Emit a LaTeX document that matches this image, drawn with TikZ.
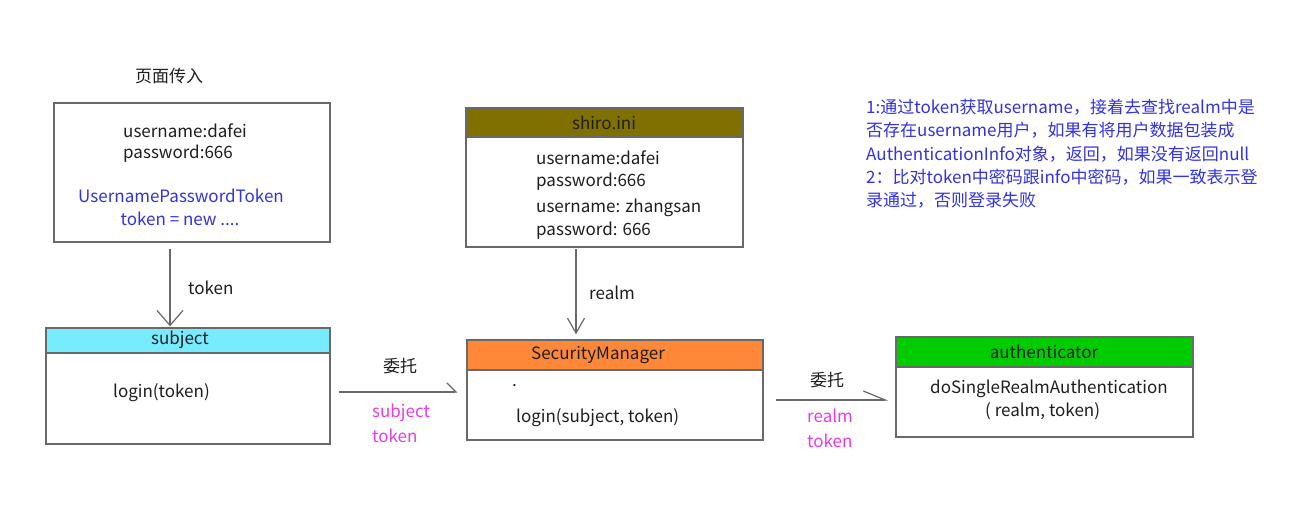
\documentclass[tikz,border=0pt]{standalone}
\usepackage{fontspec}
\setmainfont{Noto Sans CJK SC}
\usetikzlibrary{arrows.meta}
\definecolor{linec}{RGB}{105,105,105}
\definecolor{textc}{RGB}{30,30,30}
\definecolor{olive}{RGB}{128,112,0}
\definecolor{cyanh}{RGB}{120,236,255}
\definecolor{orangeh}{RGB}{255,136,56}
\definecolor{greenh}{RGB}{0,204,0}
\definecolor{bluet}{RGB}{50,50,225}
\definecolor{magt}{RGB}{230,60,230}
\tikzset{
  box/.style={draw=linec, line width=1.3pt, fill=white, inner sep=0pt},
  hdr/.style={draw=linec, line width=1.3pt, inner sep=0pt},
  txt/.style={inner sep=0pt, anchor=west, font=\fontsize{17}{20}\selectfont, text=textc},
  ctxt/.style={inner sep=0pt, anchor=center, font=\fontsize{17}{20}\selectfont, text=textc},
  btxt/.style={txt, text=bluet},
  mtxt/.style={txt, text=magt},
  varrow/.style={draw=linec, line width=1.2pt, -{Straight Barb[length=15pt,width=26pt,line width=1.2pt]}},
  varrowb/.style={draw=linec, line width=1.2pt, -{Straight Barb[length=15pt,width=17pt,line width=1.2pt]}},
  harpa/.style={draw=linec, line width=1.2pt, -{Straight Barb[left,length=9pt,width=18pt,line width=1.2pt]}},
  harpb/.style={draw=linec, line width=1.2pt, -{Straight Barb[left,length=22pt,width=18pt,line width=1.2pt]}},
}
\begin{document}
\begin{tikzpicture}[x=1pt,y=-1pt]
\useasboundingbox[fill=white] (0,0) rectangle (1289,519);

% top-left input box
\node[ctxt] (pagein) at (169,76) {页面传入};
\node[box, minimum width=276pt, minimum height=139pt] (input) at (192,172.5) {};
\node[txt] (u1) at (123,131) {username:dafei};
\node[txt] (p1) at (123,154) {password:666};
\node[ctxt, text=bluet] (upt) at (181,196) {UsernamePasswordToken};
\node[ctxt, text=bluet] (tnew) at (180,219) {token = new ....};

% shiro.ini
\node[box, minimum width=277pt, minimum height=139pt] (shiro) at (604.5,177.5) {};
\node[hdr, fill=olive, minimum width=277pt, minimum height=29pt] (shirohead) at (604.5,122.5) {};
\node[ctxt] (shirot) at (604,123) {shiro.ini};
\node[txt] (s1) at (536,158) {username:dafei};
\node[txt] (s2) at (536,182) {password:666};
\node[txt] (s3) at (536,208) {username: zhangsan};
\node[txt] (s4) at (536,231) {password: 666};

% subject
\node[box, minimum width=284pt, minimum height=116pt] (subj) at (188,386) {};
\node[hdr, fill=cyanh, minimum width=284pt, minimum height=25pt] (subjhead) at (188,340.5) {};
\node[ctxt] (subjt) at (180,340) {subject};
\node[txt] (lt) at (113,393) {login(token)};

% SecurityManager
\node[box, minimum width=296pt, minimum height=100pt] (sm) at (615,390) {};
\node[hdr, fill=orangeh, minimum width=296pt, minimum height=30pt] (smhead) at (615,355) {};
\node[ctxt] (smt) at (598,355) {SecurityManager};
\node[txt] (dot) at (512,386) {.};
\node[txt] (lst) at (516,418) {login(subject, token)};

% authenticator
\node[box, minimum width=297pt, minimum height=100pt] (auth) at (1044.5,387) {};
\node[hdr, fill=greenh, minimum width=297pt, minimum height=30pt] (authhead) at (1044.5,352) {};
\node[ctxt] (autht) at (1044,352) {authenticator};
\node[txt] (dsra) at (930,389) {doSingleRealmAuthentication};
\node[txt] (rt) at (985,411) {( realm, token)};

% connectors
\coordinate (tx) at (170,0);
\coordinate (rx) at (576,0);
\coordinate (d1) at (0,392);
\coordinate (d2) at (0,400);
\draw[varrow, shorten <=6pt, shorten >=1pt] (input.south -| tx) -- (subjhead.north -| tx);
\draw[varrowb, shorten <=1pt, shorten >=5pt] (shiro.south -| rx) -- (smhead.north -| rx);
\draw[harpa, shorten <=8pt, shorten >=9pt] (subj.east |- d1) -- (sm.west |- d1);
\draw[harpb, shorten <=12pt, shorten >=7pt] (sm.east |- d2) -- (auth.west |- d2);

% labels
\node[txt] (ltoken) at (188,288) {token};
\node[txt] (lrealm) at (589,293) {realm};
\node[ctxt] (wt1) at (400,366) {委托};
\node[mtxt] (ms1) at (372,413) {subject};
\node[mtxt] (mt1) at (372,436) {token};
\node[ctxt] (wt2) at (827,380) {委托};
\node[mtxt] (mr2) at (807,416) {realm};
\node[mtxt] (mt2) at (807,441) {token};

% notes
\node[btxt] (n1) at (866,107) {1:通过token获取username，接着去查找realm中是};
\node[btxt] (n2) at (866,130) {否存在username用户，如果有将用户数据包装成};
\node[btxt] (n3) at (866,154) {AuthenticationInfo对象，返回，如果没有返回null};
\node[btxt] (n4) at (866,177) {2：比对token中密码跟info中密码，如果一致表示登};
\node[btxt] (n5) at (866,200) {录通过，否则登录失败};
\end{tikzpicture}
\end{document}
